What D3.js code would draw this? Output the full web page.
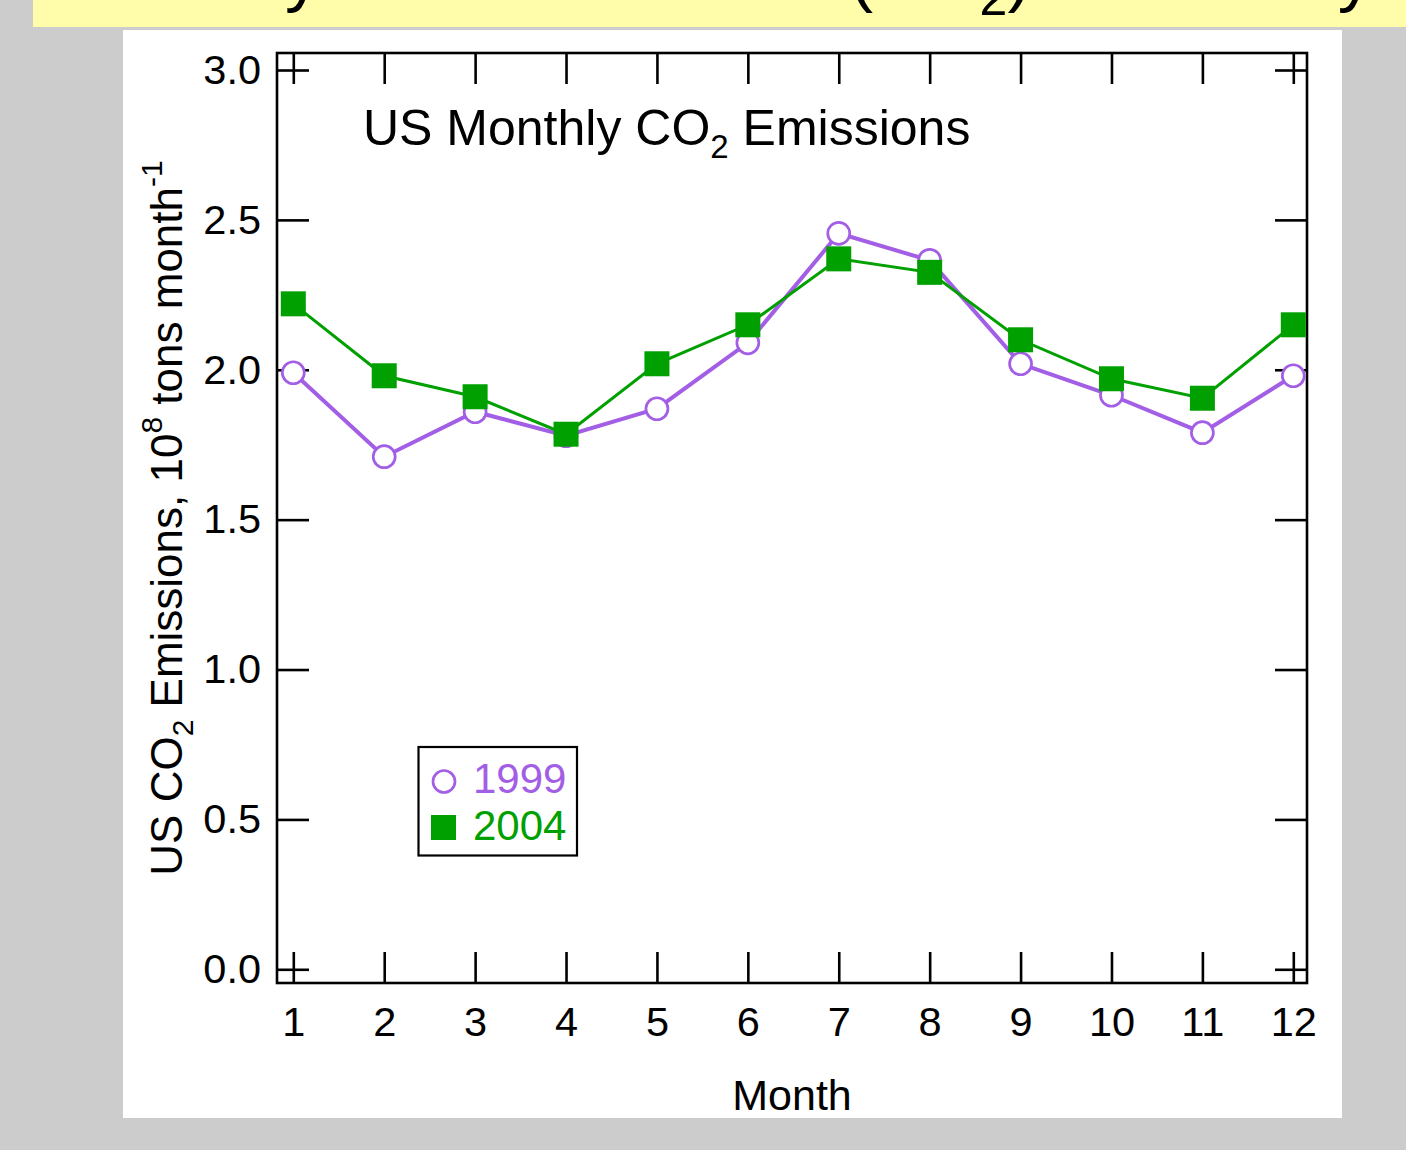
<!DOCTYPE html>
<html>
<head>
<meta charset="utf-8">
<script src="https://cdn.jsdelivr.net/npm/d3@7"></script>
<style>
  html, body { margin: 0; padding: 0; background: #cccccc; }
  svg { display: block; font-family: "Liberation Sans", Arial, Helvetica, sans-serif; }
</style>
</head>
<body>
<svg id="chart" width="1406" height="1150"></svg>
<script>
// Monthly US CO2 emissions, 10^8 tons per month
const months = [1, 2, 3, 4, 5, 6, 7, 8, 9, 10, 11, 12];
const emissions1999 = [1.99, 1.71, 1.86, 1.78, 1.87, 2.09, 2.455, 2.365, 2.02, 1.915, 1.79, 1.98];
const emissions2004 = [2.22, 1.98, 1.91, 1.785, 2.02, 2.15, 2.37, 2.325, 2.10, 1.97, 1.905, 2.15];
const seriesNames = ["1999", "2004"];
const yTickValues = [0, 0.5, 1.0, 1.5, 2.0, 2.5, 3.0];
const monthTickValues = months;

const colors = { "1999": "#a35ee6", "2004": "#00a000" };

const svg = d3.select("#chart");

// page background pieces
svg.append("rect").attr("x", 0).attr("y", 0).attr("width", 1406).attr("height", 1150).attr("fill", "#cccccc");
svg.append("rect").attr("x", 33).attr("y", 0).attr("width", 1373).attr("height", 27).attr("fill", "#fffcaa");
svg.append("rect").attr("x", 123).attr("y", 30).attr("width", 1219).attr("height", 1088).attr("fill", "#ffffff");

// slide heading, mostly above the top edge
const heading = svg.append("text")
  .attr("x", 72).attr("y", -2)
  .attr("font-size", 71).attr("fill", "#000");
heading.append("tspan").text("Monthly Carbon Dioxide (CO");
heading.append("tspan").attr("font-size", 50).attr("dy", 17).text("2");
heading.append("tspan").attr("dy", -17).text(") Tonnes by Year");

// plot frame
const plot = { left: 277, top: 53, right: 1307, bottom: 983 };

const x = d3.scaleLinear().domain([1, 12]).range([293.3, 1293.3]);
const y = d3.scaleLinear().domain([0, 3]).range([969.3, 70]);

function styleAxis(g) {
  g.select(".domain").remove();
  g.selectAll(".tick line").attr("stroke", "#000").attr("stroke-width", 2.6);
  g.selectAll(".tick text").attr("fill", "#000");
  g.attr("font-family", null).attr("font-size", 41.5);
}

// left axis with labels, ticks pointing inward
svg.append("g")
  .attr("transform", `translate(${plot.left},0)`)
  .call(d3.axisLeft(y).tickValues(yTickValues).tickSize(-32).tickPadding(16).tickFormat(d3.format(".1f")))
  .call(styleAxis);

// right axis, ticks only
svg.append("g")
  .attr("transform", `translate(${plot.right},0)`)
  .call(d3.axisRight(y).tickValues(yTickValues).tickSize(-32).tickFormat(""))
  .call(styleAxis);

// bottom axis with month labels
svg.append("g")
  .attr("transform", `translate(0,${plot.bottom})`)
  .call(d3.axisBottom(x).tickValues(monthTickValues).tickSize(-31).tickPadding(24).tickFormat(d3.format("d")))
  .call(styleAxis);

// top axis, ticks only
svg.append("g")
  .attr("transform", `translate(0,${plot.top})`)
  .call(d3.axisTop(x).tickValues(monthTickValues).tickSize(-31).tickFormat(""))
  .call(styleAxis);

svg.append("rect")
  .attr("x", plot.left).attr("y", plot.top)
  .attr("width", plot.right - plot.left).attr("height", plot.bottom - plot.top)
  .attr("fill", "none").attr("stroke", "#000").attr("stroke-width", 2.6);

// axis titles
svg.append("text")
  .attr("x", (plot.left + plot.right) / 2).attr("y", 1110)
  .attr("text-anchor", "middle").attr("font-size", 43).attr("fill", "#000")
  .text("Month");

const yTitle = svg.append("text")
  .attr("transform", `translate(182,${(plot.top + plot.bottom) / 2}) rotate(-90)`)
  .attr("text-anchor", "middle").attr("font-size", 44).attr("fill", "#000");
yTitle.append("tspan").text("US CO");
yTitle.append("tspan").attr("font-size", 30).attr("dy", 11).text("2");
yTitle.append("tspan").attr("dy", -11).text(" Emissions, 10");
yTitle.append("tspan").attr("font-size", 30).attr("dy", -20).text("8");
yTitle.append("tspan").attr("dy", 20).text(" tons month");
yTitle.append("tspan").attr("font-size", 30).attr("dy", -20).text("-1");

// chart title inside the frame
const title = svg.append("text")
  .attr("x", 363).attr("y", 145)
  .attr("font-size", 50).attr("fill", "#000");
title.append("tspan").text("US Monthly CO");
title.append("tspan").attr("font-size", 33).attr("dy", 13).text("2");
title.append("tspan").attr("dy", -13).text(" Emissions");

// series
const line = d3.line().x((d, i) => x(months[i])).y(d => y(d));

svg.append("path")
  .datum(emissions1999)
  .attr("d", line)
  .attr("fill", "none").attr("stroke", colors["1999"]).attr("stroke-width", 4);

svg.append("g").selectAll("circle")
  .data(emissions1999)
  .join("circle")
  .attr("cx", (d, i) => x(months[i]))
  .attr("cy", d => y(d))
  .attr("r", 11)
  .attr("fill", "#fff").attr("stroke", colors["1999"]).attr("stroke-width", 2.7);

svg.append("path")
  .datum(emissions2004)
  .attr("d", line)
  .attr("fill", "none").attr("stroke", colors["2004"]).attr("stroke-width", 3);

const sq = 25;
svg.append("g").selectAll("rect")
  .data(emissions2004)
  .join("rect")
  .attr("x", (d, i) => x(months[i]) - sq / 2)
  .attr("y", d => y(d) - sq / 2)
  .attr("width", sq).attr("height", sq)
  .attr("fill", colors["2004"]);

// legend
const legend = svg.append("g");
legend.append("rect")
  .attr("x", 418.5).attr("y", 747).attr("width", 158.5).attr("height", 108.5)
  .attr("fill", "#fff").attr("stroke", "#000").attr("stroke-width", 2.2);

legend.append("circle")
  .attr("cx", 444).attr("cy", 781.5).attr("r", 11)
  .attr("fill", "#fff").attr("stroke", colors["1999"]).attr("stroke-width", 2.7);
legend.append("rect")
  .attr("x", 431).attr("y", 815).attr("width", sq).attr("height", sq)
  .attr("fill", colors["2004"]);

legend.selectAll("text")
  .data(seriesNames)
  .join("text")
  .attr("x", 473)
  .attr("y", (d, i) => 793 + i * 46.5)
  .attr("font-size", 42)
  .attr("fill", d => colors[d])
  .text(d => d);
</script>
</body>
</html>
